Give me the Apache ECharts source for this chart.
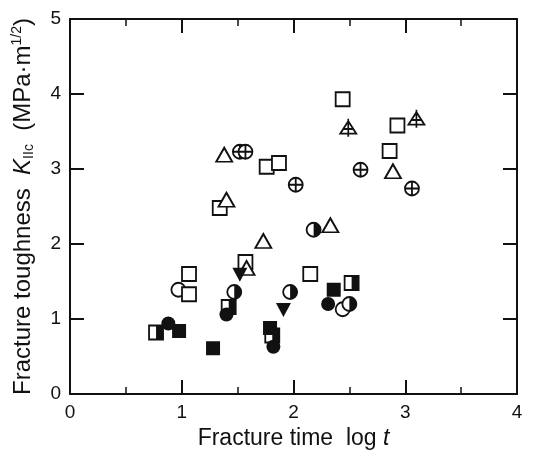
<!DOCTYPE html>
<html>
<head>
<meta charset="utf-8">
<script src="https://cdn.jsdelivr.net/npm/echarts@6/dist/echarts.min.js"></script>
<style>
html, body { margin: 0; background: #fff; }
#chart { width: 534px; height: 451px; }
</style>
</head>
<body>
<div id="chart"></div>
<script>
// values: [log t, K_IIc]
var openCircles = [[0.97, 1.39], [2.44, 1.13]];
var openSquares = [[2.44, 3.93], [2.93, 3.58], [2.86, 3.24], [1.76, 3.03], [1.87, 3.08],
  [1.34, 2.48], [1.57, 1.76], [1.065, 1.60], [1.065, 1.33], [2.15, 1.60]];
var halfSquares = [[0.77, 0.82], [2.52, 1.48], [1.42, 1.16], [1.81, 0.78]];
var openTriangles = [[1.38, 3.19], [1.40, 2.59], [1.73, 2.04], [1.58, 1.68], [2.33, 2.25], [2.89, 2.97]];
var crossTriangles = [[2.49, 3.55], [3.10, 3.67]];
var plusCircles = [[1.52, 3.23], [1.57, 3.23], [2.02, 2.79], [2.60, 2.99], [3.06, 2.74]];
var halfCircles = [[2.18, 2.19], [1.97, 1.36], [1.47, 1.36], [2.50, 1.20]];
var filledSquares = [[0.976, 0.84], [1.28, 0.61], [1.79, 0.88], [2.36, 1.39]];
var filledCircles = [[0.88, 0.94], [1.40, 1.06], [1.82, 0.63], [2.31, 1.20]];
var downTriangles = [[1.52, 1.59], [1.91, 1.12]];

var ink = '#111';
var font = "'Liberation Sans', Arial, sans-serif";

var plusCirclePath = 'path://M10,0 A10,10 0 1 1 10,20 A10,10 0 1 1 10,0 Z M0,10 L20,10 M10,0 L10,20';
var crossTrianglePath = 'path://M10,3 L20,19 L0,19 Z M10,0 L10,23 M4,13 L16,13';
var rightHalfCircle = 'path://M0,0 A10,10 0 0 1 0,20 Z';

function openStyle () {
  return { color: '#fff', borderColor: ink, borderWidth: 1.8, opacity: 1 };
}
function solidStyle () {
  return { color: ink, borderColor: ink, borderWidth: 0, opacity: 1 };
}
function scatter (data, symbol, size, style, extra) {
  var s = {
    type: 'scatter',
    data: data,
    symbol: symbol,
    symbolSize: size,
    itemStyle: style,
    silent: true
  };
  if (extra) {
    for (var k in extra) s[k] = extra[k];
  }
  return s;
}

var chart = echarts.init(document.getElementById('chart'));
var axisLine = { show: true, onZero: false, lineStyle: { color: ink, width: 2 } };

var option = {
  animation: false,
  grid: { left: 70, right: 17, top: 19, bottom: 57, outerBoundsMode: 'none', containLabel: false },
  xAxis: [
    {
      type: 'value', min: 0, max: 4, interval: 1,
      name: 'Fracture time  log {i|t}',
      nameLocation: 'middle', nameGap: 32,
      nameTextStyle: { fontFamily: font, fontSize: 23, color: ink,
        rich: { i: { fontFamily: font, fontSize: 23, fontStyle: 'italic', color: ink } } },
      axisLine: axisLine,
      axisTick: { inside: true, length: 14, lineStyle: { color: ink, width: 2 } },
      minorTick: { show: true, splitNumber: 2, length: 7, lineStyle: { color: ink, width: 1.5 } },
      axisLabel: { fontFamily: font, fontSize: 19, color: ink, margin: 9 },
      splitLine: { show: false }
    },
    {
      type: 'value', min: 0, max: 4, interval: 1, position: 'top',
      axisLine: axisLine,
      axisTick: { inside: true, length: 14, lineStyle: { color: ink, width: 2 } },
      minorTick: { show: true, splitNumber: 2, length: 7, lineStyle: { color: ink, width: 1.5 } },
      axisLabel: { show: false },
      splitLine: { show: false }
    }
  ],
  yAxis: [
    {
      type: 'value', min: 0, max: 5, interval: 1,
      name: 'Fracture toughness  {k|K}{s|IIc}  (MPa·m{p|1/2})',
      nameLocation: 'middle', nameGap: 34, nameRotate: 90,
      nameTextStyle: { fontFamily: font, fontSize: 24, color: ink,
        rich: {
          k: { fontFamily: font, fontSize: 24, fontStyle: 'italic', color: ink },
          s: { fontFamily: font, fontSize: 14, color: ink, verticalAlign: 'bottom', padding: [10, 0, 0, 0] },
          p: { fontFamily: font, fontSize: 14, color: ink, verticalAlign: 'top', padding: [0, 0, 12, 0] }
        } },
      axisLine: axisLine,
      axisTick: { inside: true, length: 14, lineStyle: { color: ink, width: 2 } },
      axisLabel: { fontFamily: font, fontSize: 19, color: ink, margin: 9 },
      splitLine: { show: false }
    },
    {
      type: 'value', min: 0, max: 5, interval: 1, position: 'right',
      axisLine: axisLine,
      axisTick: { inside: true, length: 14, lineStyle: { color: ink, width: 2 } },
      axisLabel: { show: false },
      splitLine: { show: false }
    }
  ],
  series: [
    scatter(openCircles, 'circle', 14, openStyle()),
    scatter(openSquares, 'rect', 14, openStyle()),
    scatter(halfSquares, 'rect', 14, openStyle()),
    scatter(halfSquares, 'rect', [7, 14], solidStyle(), { symbolOffset: [3.5, 0] }),
    scatter(openTriangles, 'triangle', [16, 14], openStyle()),
    scatter(crossTriangles, crossTrianglePath, [16, 18], openStyle()),
    scatter(plusCircles, plusCirclePath, 14, openStyle()),
    scatter(halfCircles, 'circle', 14, openStyle()),
    scatter(halfCircles, rightHalfCircle, [7, 14], solidStyle(), { symbolOffset: [3.5, 0] }),
    scatter(filledSquares, 'rect', 14, solidStyle()),
    scatter(filledCircles, 'circle', 14, solidStyle()),
    scatter(downTriangles, 'triangle', [15, 14], solidStyle(), { symbolRotate: 180 })
  ]
};
chart.setOption(option);
</script>
</body>
</html>
